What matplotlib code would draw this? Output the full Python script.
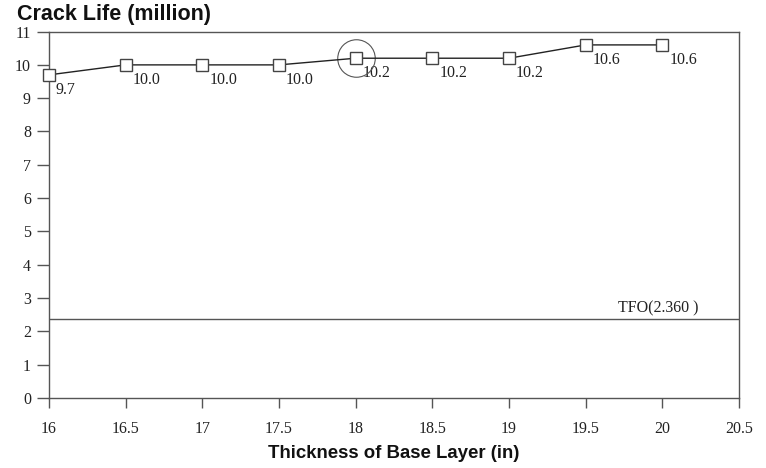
import matplotlib
matplotlib.use("Agg")
import matplotlib.pyplot as plt

# Base layer thickness (in) and predicted crack life (million)
thickness = [16, 16.5, 17, 17.5, 18, 18.5, 19, 19.5, 20]
crack_life = [9.7, 10.0, 10.0, 10.0, 10.2, 10.2, 10.2, 10.6, 10.6]
point_labels = ["9.7", "10.0", "10.0", "10.0", "10.2", "10.2", "10.2", "10.6", "10.6"]
tfo_value = 2.360
tfo_label = "TFO(2.360 )"
selected_thickness = 18
selected_life = 10.2
x_ticks = [16, 16.5, 17, 17.5, 18, 18.5, 19, 19.5, 20, 20.5]
x_tick_labels = ["16", "16.5", "17", "17.5", "18", "18.5", "19", "19.5", "20", "20.5"]
y_ticks = list(range(0, 12))

serif = "Liberation Serif"
sans = "Liberation Sans"
edge = "#555555"

fig = plt.figure(figsize=(7.66, 4.68), dpi=100)
ax = fig.add_axes([0.064, 0.150, 0.9008, 0.7825])

ax.plot(thickness, crack_life, color="#222222", lw=1.0, marker="s", ms=9,
        mfc="white", mec="#444444", mew=1.0, zorder=5, clip_on=False)

for x, y, s in zip(thickness, crack_life, point_labels):
    ax.annotate(s, (x, y), xytext=(5, -5), textcoords="offset points",
                ha="left", va="top", fontsize=11.5, family=serif, color="#222222")

# highlight ring around the selected design
ax.plot([selected_thickness], [selected_life], marker="o", ms=27, mfc="none",
        mec="#555555", mew=0.8, zorder=4)

ax.axhline(tfo_value, color="#555555", lw=1.0, zorder=2)
ax.annotate(tfo_label, (20, tfo_value), xytext=(-3, 2), textcoords="offset points",
            ha="center", va="bottom", fontsize=11.5, family=serif, color="#222222")

ax.set_xlim(16, 20.5)
ax.set_ylim(0, 11)
ax.set_xticks(x_ticks)
ax.set_xticklabels(x_tick_labels)
ax.set_yticks(y_ticks)

for sp in ax.spines.values():
    sp.set_color(edge)
    sp.set_linewidth(1.0)

ax.tick_params(axis="x", direction="out", length=7, width=1, color=edge, pad=10,
               labelsize=11.5)
ax.tick_params(axis="y", direction="out", length=9, width=1, color=edge, pad=4,
               labelsize=11.5)
for lab in ax.get_xticklabels() + ax.get_yticklabels():
    lab.set_family(serif)
    lab.set_color("#222222")

fig.text(0.022, 0.968, "Crack Life (million)", fontsize=15.5, fontweight="bold",
         family=sans, ha="left", va="center", color="#111111")
fig.text(0.514, 0.032, "Thickness of Base Layer (in)", fontsize=13.4, fontweight="bold",
         family=sans, ha="center", va="center", color="#111111")

fig.savefig("out.png", dpi=100)
